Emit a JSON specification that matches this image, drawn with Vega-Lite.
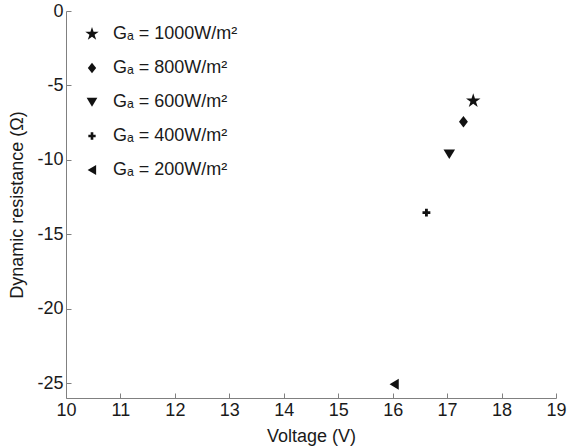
{
  "$schema": "https://vega.github.io/schema/vega-lite/v6.json",
  "autosize": {"type": "none"},
  "padding": {"left": 66, "top": 11, "right": 12, "bottom": 50},
  "width": 490,
  "height": 387,
  "background": "white",
  "config": {
    "view": {"stroke": null},
    "font": "Liberation Sans",
    "axis": {
      "grid": false,
      "domainColor": "#808080",
      "tickColor": "#808080",
      "tickSize": -5,
      "labelFontSize": 18,
      "labelColor": "#1a1a1a",
      "titleFontSize": 18,
      "titleFontWeight": "normal",
      "titleColor": "#1a1a1a",
      "labelFont": "Liberation Sans",
      "titleFont": "Liberation Sans",
      "labelFlush": false
    }
  },
  "data": {
    "values": [
      {"G": "Gₐ = 1000W/m²", "V": 17.48, "R": -6.03},
      {"G": "Gₐ = 800W/m²", "V": 17.30, "R": -7.44},
      {"G": "Gₐ = 600W/m²", "V": 17.04, "R": -9.61},
      {"G": "Gₐ = 400W/m²", "V": 16.62, "R": -13.55},
      {"G": "Gₐ = 200W/m²", "V": 16.03, "R": -25.07}
    ]
  },
  "mark": {"type": "point", "filled": true, "opacity": 1, "color": "#111111", "size": 110},
  "encoding": {
    "x": {
      "field": "V", "type": "quantitative",
      "scale": {"domain": [10, 19], "nice": false, "zero": false},
      "axis": {"values": [10, 11, 12, 13, 14, 15, 16, 17, 18, 19], "title": "Voltage (V)", "labelPadding": 8, "titlePadding": 8, "labelExpr": "'' + datum.value"}
    },
    "y": {
      "field": "R", "type": "quantitative",
      "scale": {"domain": [-26, 0], "nice": false, "zero": false},
      "axis": {"values": [0, -5, -10, -15, -20, -25], "title": "Dynamic resistance (Ω)", "labelPadding": 8, "titlePadding": 10, "labelExpr": "'' + datum.value"}
    },
    "shape": {
      "field": "G", "type": "nominal",
      "scale": {
        "domain": ["Gₐ = 1000W/m²", "Gₐ = 800W/m²", "Gₐ = 600W/m²", "Gₐ = 400W/m²", "Gₐ = 200W/m²"],
        "range": [
          "M0,-1.45L0.326,-0.448L1.379,-0.448L0.526,0.171L0.853,1.173L0,0.554L-0.853,1.173L-0.526,0.171L-1.379,-0.448L-0.326,-0.448Z",
          "M0,-1.1L0.85,0L0,1.1L-0.85,0Z",
          "M-1.1,-0.85L1.1,-0.85L0,0.95Z",
          "M-0.75,-0.27H-0.27V-0.75H0.27V-0.27H0.75V0.27H0.27V0.75H-0.27V0.27H-0.75Z",
          "M-0.9,0L0.85,-1.05L0.85,1.05Z"
        ]
      },
      "legend": {
        "title": null,
        "orient": "none",
        "legendX": 17,
        "legendY": 14,
        "labelFontSize": 18,
        "labelColor": "#1a1a1a",
        "labelFont": "Liberation Sans",
        "symbolSize": 95,
        "symbolFillColor": "#111111",
        "symbolStrokeColor": "#111111",
        "symbolStrokeWidth": 0,
        "rowPadding": 16,
        "labelOffset": 12,
        "padding": 0
      }
    }
  }
}
